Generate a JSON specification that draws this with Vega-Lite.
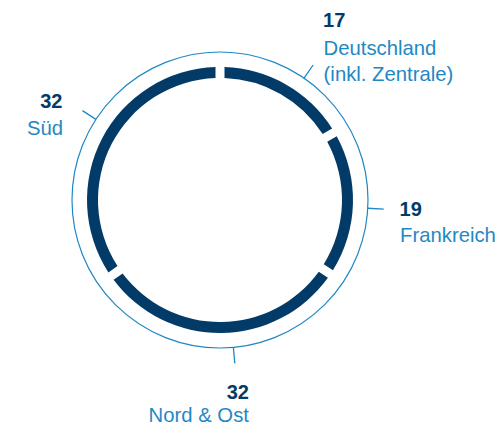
{
  "$schema": "https://vega.github.io/schema/vega-lite/v6.json",
  "width": 440,
  "height": 400,
  "autosize": {"type": "none"},
  "padding": {"left": 0, "top": 0, "right": 62, "bottom": 26},
  "background": "white",
  "config": {"view": {"stroke": null}},
  "data": {
    "values": [
      {"region": "Deutschland", "name": "Deutschland\n(inkl. Zentrale)", "value": 17, "share": 16.5, "idx": 1, "tick": 9.61},
      {"region": "Frankreich", "name": "Frankreich", "value": 19, "share": 17.9, "idx": 2, "tick": 25.89},
      {"region": "Nord & Ost", "name": "Nord & Ost", "value": 32, "share": 30.9, "idx": 3, "tick": 48.56},
      {"region": "Süd", "name": "Süd", "value": 32, "share": 34.7, "idx": 4, "tick": 84.17}
    ]
  },
  "layer": [
    {
      "data": {"values": [{"ring": "outer"}]},
      "mark": {"type": "arc", "radius": 148, "fill": "transparent", "stroke": "#1f88c4", "strokeWidth": 1.2},
      "encoding": {"theta": {"value": 0}, "theta2": {"value": 6.2832}}
    },
    {
      "mark": {"type": "arc", "radius": 133, "radius2": 122, "padAngle": 0.05, "color": "#033b68"},
      "encoding": {
        "theta": {"field": "share", "type": "quantitative", "stack": true, "scale": {"domain": [0, 100]}},
        "order": {"field": "idx", "type": "quantitative"}
      }
    },
    {
      "mark": {"type": "arc", "radius": 164, "radius2": 148, "fill": "transparent", "stroke": "#1f88c4", "strokeWidth": 1.3},
      "encoding": {
        "theta": {"field": "tick", "type": "quantitative", "stack": null, "scale": {"domain": [0, 100]}},
        "theta2": {"field": "tick"}
      }
    },
    {
      "transform": [{"filter": "datum.region === 'Deutschland'"}],
      "mark": {"type": "text", "radius": 164, "align": "left", "baseline": "alphabetic", "dx": 10, "dy": -38.3, "font": "Liberation Sans", "fontSize": 20, "fontWeight": "bold", "color": "#033b68"},
      "encoding": {"theta": {"field": "tick", "type": "quantitative", "scale": {"domain": [0, 100]}}, "text": {"field": "value"}}
    },
    {
      "transform": [{"filter": "datum.region === 'Deutschland'"}],
      "mark": {"type": "text", "radius": 164, "align": "left", "baseline": "alphabetic", "dx": 10.5, "dy": -10, "lineBreak": "\n", "lineHeight": 26, "font": "Liberation Sans", "fontSize": 20.3, "color": "#1f88c4"},
      "encoding": {"theta": {"field": "tick", "type": "quantitative", "scale": {"domain": [0, 100]}}, "text": {"field": "name"}}
    },
    {
      "transform": [{"filter": "datum.region === 'Frankreich'"}],
      "mark": {"type": "text", "radius": 164, "align": "left", "baseline": "alphabetic", "dx": 15.8, "dy": 6.8, "font": "Liberation Sans", "fontSize": 20, "fontWeight": "bold", "color": "#033b68"},
      "encoding": {"theta": {"field": "tick", "type": "quantitative", "scale": {"domain": [0, 100]}}, "text": {"field": "value"}}
    },
    {
      "transform": [{"filter": "datum.region === 'Frankreich'"}],
      "mark": {"type": "text", "radius": 164, "align": "left", "baseline": "alphabetic", "dx": 16.3, "dy": 32.5, "font": "Liberation Sans", "fontSize": 20.3, "color": "#1f88c4"},
      "encoding": {"theta": {"field": "tick", "type": "quantitative", "scale": {"domain": [0, 100]}}, "text": {"field": "name"}}
    },
    {
      "transform": [{"filter": "datum.region === 'Nord & Ost'"}],
      "mark": {"type": "text", "radius": 164, "align": "right", "baseline": "alphabetic", "dx": 14.1, "dy": 35.2, "font": "Liberation Sans", "fontSize": 20, "fontWeight": "bold", "color": "#033b68"},
      "encoding": {"theta": {"field": "tick", "type": "quantitative", "scale": {"domain": [0, 100]}}, "text": {"field": "value"}}
    },
    {
      "transform": [{"filter": "datum.region === 'Nord & Ost'"}],
      "mark": {"type": "text", "radius": 164, "align": "right", "baseline": "alphabetic", "dx": 14.1, "dy": 58.8, "font": "Liberation Sans", "fontSize": 20.3, "color": "#1f88c4"},
      "encoding": {"theta": {"field": "tick", "type": "quantitative", "scale": {"domain": [0, 100]}}, "text": {"field": "name"}}
    },
    {
      "transform": [{"filter": "datum.region === 'Süd'"}],
      "mark": {"type": "text", "radius": 164, "align": "right", "baseline": "alphabetic", "dx": -20, "dy": -2.4, "font": "Liberation Sans", "fontSize": 20, "fontWeight": "bold", "color": "#033b68"},
      "encoding": {"theta": {"field": "tick", "type": "quantitative", "scale": {"domain": [0, 100]}}, "text": {"field": "value"}}
    },
    {
      "transform": [{"filter": "datum.region === 'Süd'"}],
      "mark": {"type": "text", "radius": 164, "align": "right", "baseline": "alphabetic", "dx": -19.5, "dy": 24.3, "font": "Liberation Sans", "fontSize": 20.3, "color": "#1f88c4"},
      "encoding": {"theta": {"field": "tick", "type": "quantitative", "scale": {"domain": [0, 100]}}, "text": {"field": "name"}}
    }
  ]
}
